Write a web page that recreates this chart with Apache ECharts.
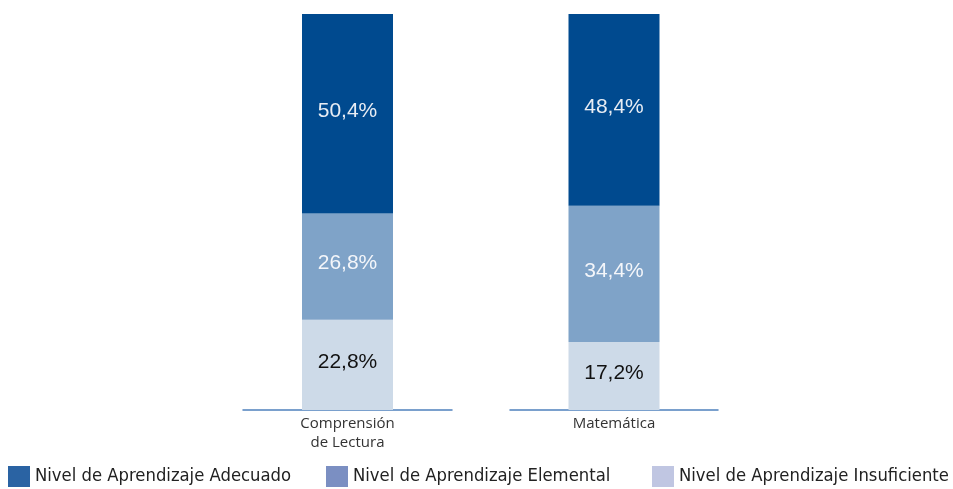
<!DOCTYPE html>
<html><head><meta charset="utf-8">
<script src="https://cdn.jsdelivr.net/npm/echarts@6/dist/echarts.min.js"></script>
<style>html,body{margin:0;padding:0;background:#fff}#c{width:953px;height:489px}</style>
</head><body><div id="c"></div>
<script>
const categories = ['Comprensión\nde Lectura', 'Matemática'];
const seriesNames = ['Nivel de Aprendizaje Adecuado', 'Nivel de Aprendizaje Elemental', 'Nivel de Aprendizaje Insuficiente'];
const insuficiente = [22.8, 17.2];
const elemental = [26.8, 34.4];
const adecuado = [50.4, 48.4];
const barColors = ['#004a8f', '#7fa3c8', '#cddae8'];
const legendColors = ['#2a63a3', '#7b8fc2', '#c0c6e2'];
const labelColors = ['#e8edf4', '#f4f6fa', '#111111'];

const fmt = v => v.toFixed(1).replace('.', ',') + '%';
const grids = [
  {left: 243, width: 209, top: 14, bottom: 79},
  {left: 510, width: 208, top: 14, bottom: 79}
];
const xAxis = grids.map((g, i) => ({
  type: 'category', gridIndex: i, data: [categories[i]],
  axisLine: {lineStyle: {color: '#4f81bd', width: 1.5}},
  axisTick: {show: false},
  axisLabel: {color: '#333', fontFamily: 'Open Sans', fontSize: 15, lineHeight: 19, margin: 4}
}));
const yAxis = grids.map((g, i) => ({
  type: 'value', gridIndex: i, min: 0, max: 100, show: false
}));
const dataSets = [adecuado, elemental, insuficiente];
const series = [];
// stacked bottom-up: insuficiente, elemental, adecuado
[2, 1, 0].forEach(k => {
  [0, 1].forEach(i => {
    series.push({
      name: seriesNames[k], type: 'bar', stack: 's' + i,
      xAxisIndex: i, yAxisIndex: i, barWidth: 91,
      data: [dataSets[k][i]],
      itemStyle: {color: barColors[k]},
      label: {show: true, position: 'inside', offset: [0, -3], formatter: p => fmt(p.value),
        color: labelColors[k], fontFamily: 'Liberation Sans', fontSize: 21},
      silent: true, animation: false
    });
  });
});
const legendLefts = [8, 326, 652];
const legend = seriesNames.map((n, k) => ({
  left: legendLefts[k], top: 466, itemWidth: 22, itemHeight: 21, itemGap: 0, padding: 0,
  icon: 'rect', selectedMode: false,
  data: [{name: n, itemStyle: {color: legendColors[k]}}],
  textStyle: {color: '#222', fontFamily: '"DejaVu Sans Condensed", "Liberation Sans"', fontSize: 18.3}
}));
const chart = echarts.init(document.getElementById('c'));
chart.setOption({animation: false, grid: grids, xAxis, yAxis, legend, series});
</script></body></html>
